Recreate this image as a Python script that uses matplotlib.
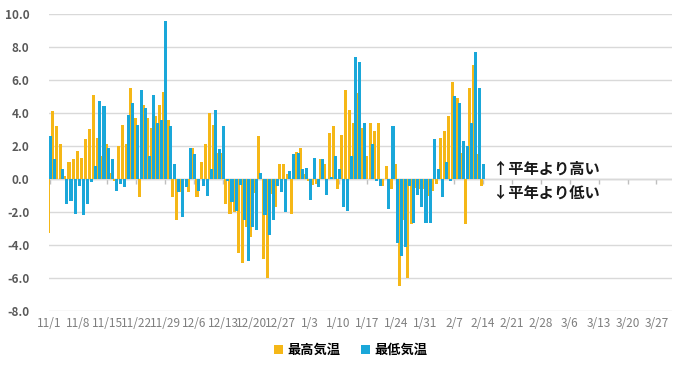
import numpy as np
import matplotlib
matplotlib.use("Agg")
import matplotlib.pyplot as plt

plt.rcParams['font.family'] = ['Noto Sans CJK JP', 'DejaVu Sans']

# 平年差 (11/1 から 2/14 まで, 1日ごと)
high_anom = [-3.3, 4.1, 3.2, 2.1, 0.2, 1.0, 1.2, 1.7, 1.3, 2.4,
             3.0, 5.1, 2.5, 1.4, 2.1, 0.35, -0.1, 2.0, 3.3, 2.1,
             5.5, 3.7, -1.1, 4.5, 3.7, 3.1, 3.8, 4.5, 5.3, 3.6,
             -1.1, -2.5, -0.8, 0.0, -0.8, 1.9, -1.1, 1.0, 2.1, 4.0,
             3.3, 1.6, 1.6, -1.5, -2.1, -2.0, -4.5, -5.1, -2.9, -3.5,
             -0.85, 2.6, -4.85, -6.0, -0.9, -1.7, 0.9, 0.9, 0.3, -2.15,
             1.65, 1.85, 0.3, -0.1, -0.35, -0.3, 1.2, 0.9, 2.8, 3.2,
             -0.63, 2.67, 5.4, 4.2, 3.4, 5.2, 3.1, 1.4, 3.4, 2.9,
             3.4, -0.45, 0.8, -0.6, 0.9, -6.5, -2.5, -6.0, -2.7, -0.55,
             -0.6, -0.6, -1.0, -0.75, -0.3, 2.5, 2.9, 3.8, 5.9, 4.9,
             1.6, -2.7, 5.5, 6.9, 1.5, -0.45]
low_anom = [2.6, 1.2, 0.0, 0.6, -1.5, -1.35, -2.1, -0.45, -2.2, -1.5,
            -0.2, 0.8, 4.7, 4.4, 1.9, 1.2, -0.7, -0.3, -0.5, 3.9,
            4.6, 3.3, 5.4, 4.3, 1.4, 5.1, 3.4, 3.6, 9.6, 3.2,
            0.9, -0.8, -2.3, -0.5, 1.9, 1.5, -0.75, -0.45, -1.05, 0.6,
            4.2, 1.8, 3.2, -0.15, -1.4, -1.95, -0.36, -2.5, -4.95, -2.9,
            -3.1, 0.35, -2.2, -3.4, -2.5, -0.45, -0.8, -2.0, 0.5, 1.5,
            1.6, 0.6, 0.67, -1.25, 1.27, -0.5, 1.2, -0.97, 0.1, 1.4,
            0.63, -1.7, -1.95, 1.4, 7.4, 7.1, 3.4, 0.0, 2.1, -0.15,
            -0.45, 0.0, -1.84, 3.2, -3.86, -4.65, -4.14, -0.45, -2.65, -0.95,
            -1.7, -2.65, -2.65, 2.4, 0.6, -1.1, 1.0, -0.15, 5.0, 4.6,
            2.3, 2.0, 3.4, 7.7, 5.5, 0.93]

tick_labels = ['11/1', '11/8', '11/15', '11/22', '11/29', '12/6', '12/13',
               '12/20', '12/27', '1/3', '1/10', '1/17', '1/24', '1/31',
               '2/7', '2/14', '2/21', '2/28', '3/6', '3/13', '3/20', '3/27']
n_days = 151  # 11/1 - 3/31

c_high = '#F5B717'
c_low = '#1AA7D9'

fig = plt.figure(figsize=(6.97, 3.71), dpi=100)
ax = fig.add_axes([0.0703, 0.1617, 0.894, 0.8006])

x = np.arange(len(high_anom))
w = 0.74
ax.bar(x - 0.3, high_anom, width=w, color=c_high, zorder=2, label='最高気温')
ax.bar(x + 0.18, low_anom, width=w, color=c_low, zorder=3, label='最低気温')

ax.set_xlim(-0.15, n_days - 0.2)
ax.set_ylim(-8, 10)
ax.set_yticks(np.arange(-8, 10.1, 2))
ax.set_yticklabels(['%.1f' % v for v in np.arange(-8, 10.1, 2)])
ax.grid(axis='y', color='#d9d9d9', lw=1, zorder=0)

tick_pos = np.arange(0, n_days, 7)[:len(tick_labels)]
ax.set_xticks(tick_pos)
ax.set_xticklabels(tick_labels)
ax.tick_params(axis='x', length=0, pad=4, labelsize=8.5, labelcolor='#7f7f7f')
ax.tick_params(axis='y', length=0, pad=14, labelsize=8.5, labelcolor='#595959')
for lab in ax.get_yticklabels():
    lab.set_fontweight('bold')

# zero axis line with small tick marks
ax.axhline(0, color='#bfbfbf', lw=1, zorder=1)
ax.vlines(tick_pos, -0.3, 0, color='#bfbfbf', lw=1, zorder=1)

for s in ax.spines.values():
    s.set_visible(False)

ax.text(107.3, 0.65, '↑平年より高い', fontsize=11, fontweight='bold',
        va='center', ha='left', color='#1a1a1a')
ax.text(107.3, -0.8, '↓平年より低い', fontsize=11, fontweight='bold',
        va='center', ha='left', color='#1a1a1a')

fig.legend(loc='center', bbox_to_anchor=(0.503, 0.057), ncol=2, frameon=False,
           handlelength=0.7, handleheight=0.7, handletextpad=0.3,
           columnspacing=1.6, prop={'size': 9.5, 'weight': 'bold'})

fig.savefig('out.png', dpi=100)
